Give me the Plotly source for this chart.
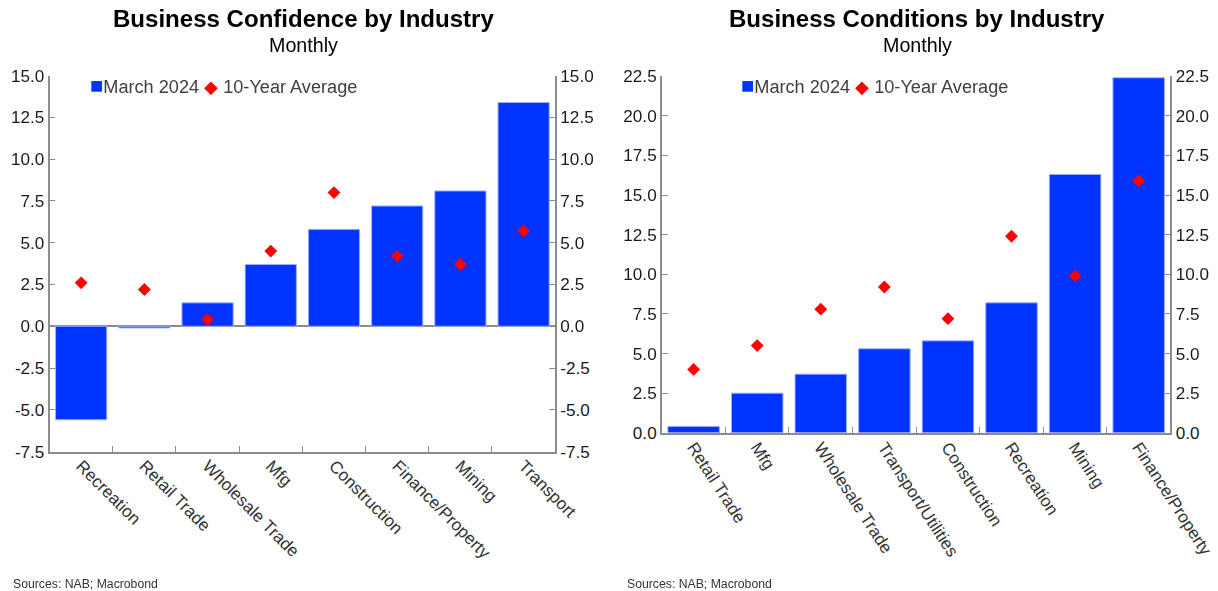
import plotly.graph_objects as go

# ---- data ----
conf_categories = ["Recreation", "Retail Trade", "Wholesale Trade", "Mfg", "Construction",
                   "Finance/Property", "Mining", "Transport"]
conf_march2024 = [-5.6, -0.1, 1.4, 3.7, 5.8, 7.2, 8.1, 13.4]
conf_10yr_avg = [2.6, 2.2, 0.4, 4.5, 8.0, 4.2, 3.7, 5.7]

cond_categories = ["Retail Trade", "Mfg", "Wholesale Trade", "Transport/Utilities", "Construction",
                   "Recreation", "Mining", "Finance/Property"]
cond_march2024 = [0.4, 2.5, 3.7, 5.3, 5.8, 8.2, 16.3, 22.4]
cond_10yr_avg = [4.0, 5.5, 7.8, 9.2, 7.2, 12.4, 9.9, 15.9]

conf_ticks = [-7.5, -5.0, -2.5, 0.0, 2.5, 5.0, 7.5, 10.0, 12.5, 15.0]
conf_ticktext = ["-7.5", "-5.0", "-2.5", "0.0", "2.5", "5.0", "7.5", "10.0", "12.5", "15.0"]
cond_ticks = [0.0, 2.5, 5.0, 7.5, 10.0, 12.5, 15.0, 17.5, 20.0, 22.5]
cond_ticktext = ["0.0", "2.5", "5.0", "7.5", "10.0", "12.5", "15.0", "17.5", "20.0", "22.5"]

BLUE = "#0033ff"
RED = "#ff0000"
GRAY = "#8c8c8c"
FONT = "Liberation Sans, Arial, sans-serif"

# figure size in page pixels and observed page->screenshot mapping
FW, FH = 1265, 611
SX, SY, OY = 0.964, 0.966, 9.5

def fx(sx):
    """screen x (reference pixels) -> paper fraction"""
    return (sx / SX) / FW

def fy(sy):
    """screen y (reference pixels, from top) -> paper fraction"""
    return 1 - ((sy - OY) / SY) / FH

def fs(size):
    return size / SX

fig = go.Figure()

fig.add_trace(go.Bar(x=conf_categories, y=conf_march2024, name="March 2024",
                     marker=dict(color=BLUE, line=dict(color="#9fb0ff", width=1)),
                     xaxis="x", yaxis="y"))
fig.add_trace(go.Scatter(x=conf_categories, y=conf_10yr_avg, name="10-Year Average", mode="markers",
                         marker=dict(symbol="diamond", color=RED, size=fs(9.5)),
                         xaxis="x", yaxis="y"))
fig.add_trace(go.Scatter(x=conf_categories, y=conf_march2024, mode="markers", opacity=0,
                         hoverinfo="skip", xaxis="x", yaxis="y3"))

fig.add_trace(go.Bar(x=cond_categories, y=cond_march2024, name="March 2024",
                     marker=dict(color=BLUE, line=dict(color="#9fb0ff", width=1)),
                     xaxis="x2", yaxis="y2"))
fig.add_trace(go.Scatter(x=cond_categories, y=cond_10yr_avg, name="10-Year Average", mode="markers",
                         marker=dict(symbol="diamond", color=RED, size=fs(9.5)),
                         xaxis="x2", yaxis="y2"))
fig.add_trace(go.Scatter(x=cond_categories, y=cond_march2024, mode="markers", opacity=0,
                         hoverinfo="skip", xaxis="x2", yaxis="y4"))

tickfont = dict(family=FONT, size=fs(16.5), color="#1a1a1a")
catfont = dict(family=FONT, size=fs(16.5), color="#333333")

xcommon = dict(type="category", showline=True, linecolor=GRAY, linewidth=1.5,
               ticks="inside", ticklen=6, tickcolor=GRAY, tickson="boundaries",
               tickfont=catfont, showgrid=False, zeroline=False, ticklabelstandoff=-4)
ycommon = dict(showline=True, linecolor=GRAY, linewidth=1.5, ticklen=6, tickcolor=GRAY,
               ticks="inside", tickfont=tickfont, showgrid=False)

fig.update_layout(
    width=FW, height=FH,
    margin=dict(l=0, r=0, t=0, b=0, pad=0),
    paper_bgcolor="white", plot_bgcolor="white",
    bargap=0.19,
    showlegend=False,
    font=dict(family=FONT),
    xaxis=dict(domain=[fx(49.5), fx(554.5)], anchor="y", tickangle=45, **xcommon),
    yaxis=dict(domain=[fy(450.7), fy(76)], anchor="x", range=[-7.5, 15], tickvals=conf_ticks,
               ticktext=conf_ticktext, zeroline=True, zerolinecolor=GRAY, zerolinewidth=1.5, **ycommon),
    yaxis3=dict(overlaying="y", anchor="x", side="right", range=[-7.5, 15], tickvals=conf_ticks,
                ticktext=conf_ticktext, zeroline=False, **ycommon),
    xaxis2=dict(domain=[fx(661), fx(1169)], anchor="y2", tickangle=57, **xcommon),
    yaxis2=dict(domain=[fy(432), fy(76.5)], anchor="x2", range=[0, 22.5], tickvals=cond_ticks,
                ticktext=cond_ticktext, zeroline=False, **ycommon),
    yaxis4=dict(overlaying="y2", anchor="x2", side="right", range=[0, 22.5], tickvals=cond_ticks,
                ticktext=cond_ticktext, zeroline=False, **ycommon),
)

legend_text = ("<span style='color:#0033ff;font-size:22px'>■</span>March 2024 "
               "<span style='color:#ff0000'>◆</span> 10-Year Average")

annotations = [
    dict(text="<b>Business Confidence by Industry</b>", x=fx(303.5), y=fy(19),
         font=dict(family=FONT, size=fs(23.2), color="black")),
    dict(text="Monthly", x=fx(303.5), y=fy(45.5), font=dict(family=FONT, size=fs(19), color="black")),
    dict(text="<b>Business Conditions by Industry</b>", x=fx(916), y=fy(19),
         font=dict(family=FONT, size=fs(23.2), color="black")),
    dict(text="Monthly", x=fx(916), y=fy(45.5), font=dict(family=FONT, size=fs(19), color="black")),
    dict(text=legend_text, x=fx(88), y=fy(85.5), xanchor="left",
         font=dict(family=FONT, size=fs(17.5), color="#404040")),
    dict(text=legend_text, x=fx(738), y=fy(85.5), xanchor="left",
         font=dict(family=FONT, size=fs(17.5), color="#404040")),
    dict(text="Sources: NAB; Macrobond", x=fx(11), y=fy(583), xanchor="left",
         font=dict(family=FONT, size=fs(11.8), color="#333333")),
    dict(text="Sources: NAB; Macrobond", x=fx(624), y=fy(583), xanchor="left",
         font=dict(family=FONT, size=fs(11.8), color="#333333")),
]
for a in annotations:
    a.setdefault("xanchor", "center")
    a.update(xref="paper", yref="paper", yanchor="middle", showarrow=False)
fig.update_layout(annotations=annotations)

fig.write_html(
    "out.html",
    config={"displayModeBar": False},
    post_script=(
        "document.documentElement.style.margin='0';"
        "document.body.style.margin='0';"
    ),
)
